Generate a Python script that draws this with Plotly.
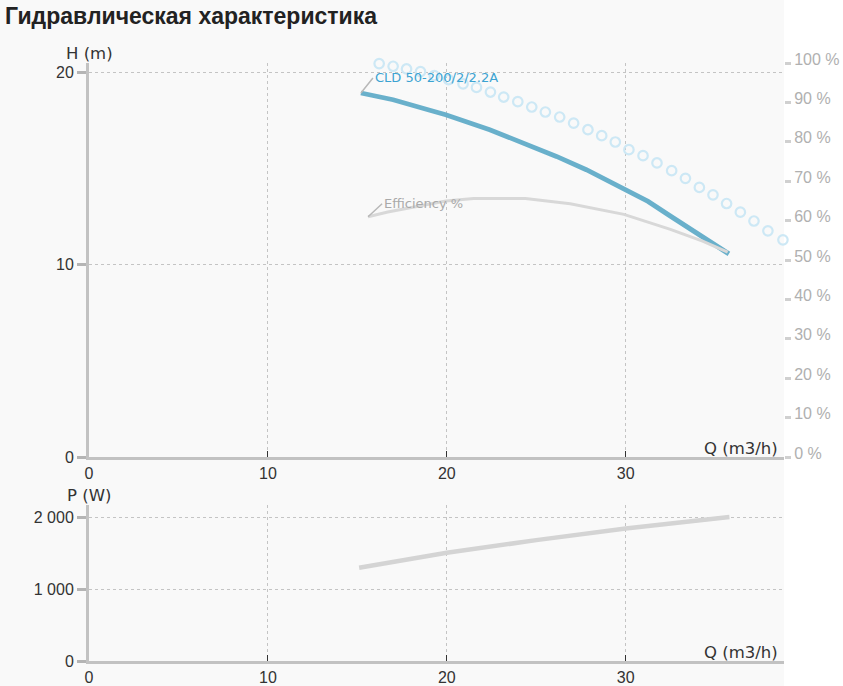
import plotly.graph_objects as go

# pump curve CLD 50-200/2/2.2A
q_head = [15.2, 17.0, 19.05, 19.94, 22.4, 24.45, 26.13, 27.8, 29.94, 31.25, 32.46, 34.32, 35.77]
head = [18.94, 18.59, 18.04, 17.81, 17.03, 16.28, 15.64, 14.95, 13.94, 13.30, 12.56, 11.40, 10.57]

q_eff = [15.6, 16.7, 19.95, 21.5, 24.4, 26.9, 29.9, 32.5, 34.3, 35.7]
eff = [61.0, 62.2, 65.0, 65.6, 65.6, 64.3, 61.6, 57.8, 54.8, 52.0]

# light blue ring series
q_ring = [16.22, 17.0, 17.75, 18.53, 19.3, 20.1, 20.91, 21.66, 22.44, 23.18,
          23.97, 24.75, 25.51, 26.31, 27.09, 27.89, 28.66, 29.42, 30.18, 30.97,
          31.75, 32.57, 33.34, 34.12, 34.88, 35.64, 36.41, 37.17, 37.95, 38.79]
h_ring = [20.47, 20.33, 20.19, 20.05, 19.84, 19.64, 19.41, 19.23, 18.99, 18.73,
          18.49, 18.21, 17.95, 17.69, 17.37, 17.03, 16.72, 16.39, 15.99, 15.68,
          15.30, 14.90, 14.50, 14.03, 13.64, 13.19, 12.74, 12.28, 11.77, 11.30]

q_power = [15.1, 17.37, 20.0, 25.0, 30.0, 35.8]
power = [1295, 1397, 1503, 1679, 1841, 2001]

x_ticks = [0, 10, 20, 30]
h_ticks = [0, 10, 20]
eff_ticks = [0, 10, 20, 30, 40, 50, 60, 70, 80, 90, 100]
eff_labels = [f"{v} %" for v in eff_ticks]
p_ticks = [0, 1000, 2000]

FONT = "Liberation Sans, Arial, sans-serif"
WIDE = "DejaVu Sans, Verdana, sans-serif"
GRID = "#c4c4c4"
AXIS = "#c2c2c2"

fig = go.Figure()

fig.add_trace(go.Scatter(x=q_ring, y=h_ring, mode="markers", cliponaxis=False,
                         marker=dict(symbol="circle-open", size=9.5, color="#cde8f5",
                                     line=dict(width=2.2, color="#cde8f5")),
                         xaxis="x", yaxis="y", hoverinfo="skip"))
fig.add_trace(go.Scatter(x=q_eff, y=eff, mode="lines", line=dict(color="#d8d8d8", width=3),
                         xaxis="x", yaxis="y2", name="Efficiency %"))
fig.add_trace(go.Scatter(x=q_head, y=head, mode="lines", line=dict(color="#69b0cb", width=4.8),
                         xaxis="x", yaxis="y", name="CLD 50-200/2/2.2A"))
fig.add_trace(go.Scatter(x=q_power, y=power, mode="lines", line=dict(color="#d4d4d4", width=4.5),
                         xaxis="x2", yaxis="y3", name="P"))

x_common = dict(range=[0, 38.85], tickvals=x_ticks, showline=True, linecolor=AXIS, linewidth=3,
                ticks="inside", ticklen=6, tickcolor="#333", tickwidth=1, automargin=False,
                showgrid=True, gridcolor=GRID, griddash="dot", gridwidth=1,
                zeroline=False, tickfont=dict(size=16, color="#333", family=FONT))
y_left = dict(showline=True, linecolor=AXIS, linewidth=3, automargin=False,
              ticks="outside", ticklen=9, tickcolor="#b4b4b4", tickwidth=3,
              showgrid=True, gridcolor=GRID, griddash="dot", gridwidth=1,
              zeroline=False, tickfont=dict(size=16, color="#333", family=FONT))

fig.update_layout(
    width=843, height=686,
    margin=dict(l=89, r=58.6, t=63, b=25, autoexpand=False),
    paper_bgcolor="#ffffff", plot_bgcolor="#fdfdfd",
    showlegend=False,
    separators=", ",
    font=dict(family=FONT, color="#333"),
    title=dict(text="<b>Гидравлическая характеристика</b>", x=5 / 843, xanchor="left",
               xref="container", yref="container", y=1 - 16 / 686, yanchor="middle",
               font=dict(size=23, color="#222", family=FONT)),
    xaxis=dict(domain=[0, 1], anchor="y", **x_common),
    yaxis=dict(domain=[0.341, 1], range=[0, 20.5], tickvals=h_ticks, **y_left),
    yaxis2=dict(overlaying="y", side="right", range=[0, 100], tickvals=eff_ticks, ticktext=eff_labels,
                showgrid=False, zeroline=False, showline=False, automargin=False,
                ticks="outside", ticklen=6, tickcolor="#d0d0d0", tickwidth=3,
                ticklabelshift=-4,
                tickfont=dict(size=16, color="#b0b0b0", family=FONT)),
    xaxis2=dict(domain=[0, 1], anchor="y3", **x_common),
    yaxis3=dict(domain=[0, 0.261], range=[0, 2168], tickvals=p_ticks, tickformat=",d", **y_left),
)

# grey chart container behind the plots (ends at the right edge of the plot area)
fig.add_shape(type="rect", xref="paper", yref="paper", x0=-89 / 695.4, x1=1,
              y0=-25 / 598, y1=1 + 63 / 598, fillcolor="#f9f9f9", line_width=0, layer="below")

annotations = [
    dict(text="H (m)", xref="paper", yref="paper", x=0, y=1, xanchor="center", yanchor="bottom", yshift=-2),
    dict(text="P (W)", xref="paper", yref="paper", x=0, y=0.261, xanchor="center", yanchor="bottom", yshift=-2),
    dict(text="Q (m3/h)", xref="paper", yref="paper", x=691 / 695.4, y=0.341, xanchor="right", yanchor="bottom", yshift=-3),
    dict(text="Q (m3/h)", xref="paper", yref="paper", x=691 / 695.4, y=0, xanchor="right", yanchor="bottom", yshift=-3),
]
for a in annotations:
    a["showarrow"] = False
    a["font"] = dict(size=16.5, color="#333", family=WIDE)

# series labels with short leader lines
annotations.append(dict(text="CLD 50-200/2/2.2A", x=q_head[0], y=head[0], xref="x", yref="y",
                        xanchor="left", yanchor="middle", ax=12, ay=-15, showarrow=True,
                        arrowhead=0, arrowwidth=1.5, arrowcolor="#b8b8b8",
                        font=dict(size=13, color="#3ca3d2", family=WIDE)))
annotations.append(dict(text="Efficiency %", x=q_eff[0], y=eff[0], xref="x", yref="y2",
                        xanchor="left", yanchor="middle", ax=14, ay=-13, showarrow=True,
                        arrowhead=0, arrowwidth=1.5, arrowcolor="#b8b8b8",
                        font=dict(size=13, color="#aaaaaa", family=WIDE)))
fig.update_layout(annotations=annotations)

fig.write_html("out.html", config={"displayModeBar": False},
               post_script="document.body.style.margin='0';")
